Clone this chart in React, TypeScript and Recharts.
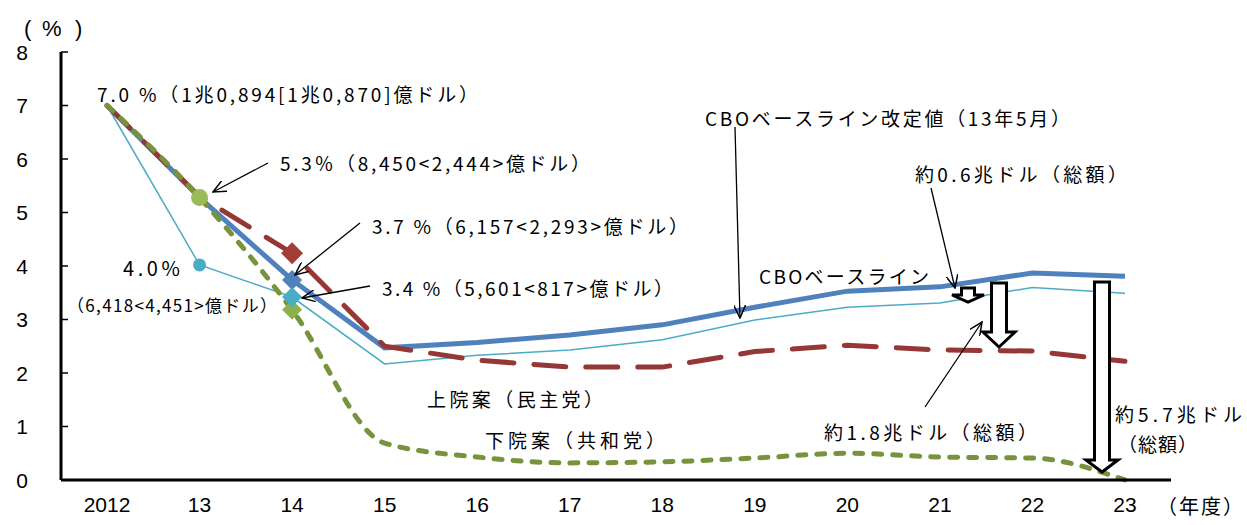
import React from 'react';
import { LineChart, Line, XAxis, YAxis } from 'recharts';

const years = ['2012', '13', '14', '15', '16', '17', '18', '19', '20', '21', '22', '23'];
const cboBaseline = [7.0, 5.28, 3.74, 2.47, 2.57, 2.71, 2.9, 3.23, 3.53, 3.61, 3.87, 3.81];
const cboRevised = [7.0, 4.02, 3.42, 2.17, 2.33, 2.43, 2.62, 2.99, 3.23, 3.31, 3.6, 3.49];
const senatePlan = [7.0, 5.3, 4.24, 2.5, 2.24, 2.11, 2.11, 2.4, 2.52, 2.43, 2.41, 2.22];
const housePlan = [7.0, 5.28, 3.18, 0.69, 0.43, 0.32, 0.34, 0.41, 0.5, 0.43, 0.41, 0.0];
const yTicks = [0, 1, 2, 3, 4, 5, 6, 7, 8];

const data = years.map((year, i) => ({
  year,
  base: cboBaseline[i],
  revised: cboRevised[i],
  senate: senatePlan[i],
  house: housePlan[i],
}));

const W = 1247;
const H = 525;
const JP = '"Noto Sans CJK JP", "Noto Sans", sans-serif';
const TICK_FONT = '"Liberation Sans", Arial, sans-serif';

const BLUE = '#4F81BD';
const CYAN = '#4BACC6';
const RED = '#953735';
const GREEN = '#77933C';

type Mark = { kind: 'circle' | 'diamond'; r: number; fill: string };

// dot renderer that only draws at given indices
const makeDot = (marks: Record<number, Mark>) => (props: any) => {
  const { cx, cy, index } = props;
  const m = marks[index];
  if (!m || cx == null || cy == null) return <g key={`d-${index}`} />;
  if (m.kind === 'circle') {
    return <circle key={`d-${index}`} cx={cx} cy={cy} r={m.r} fill={m.fill} />;
  }
  const r = m.r;
  return (
    <polygon
      key={`d-${index}`}
      points={`${cx},${cy - r} ${cx + r},${cy} ${cx},${cy + r} ${cx - r},${cy}`}
      fill={m.fill}
    />
  );
};

const YTick = (props: any) => {
  const { x, y, payload } = props;
  return (
    <g>
      <text x={x - 33} y={y} textAnchor="end" dominantBaseline="central" fontSize={21} fontFamily={TICK_FONT} fill="#000">
        {payload.value}
      </text>
      <line x1={x} x2={x + 7} y1={y} y2={y} stroke="#000" strokeWidth={1.5} />
    </g>
  );
};

const notes = [
  { text: '7.0 %（1兆0,894[1兆0,870]億ドル）', x: 97, y: 93, w: 381, size: 19 },
  { text: '5.3％（8,450<2,444>億ドル）', x: 280, y: 162, w: 310, size: 19 },
  { text: '3.7 %（6,157<2,293>億ドル）', x: 372, y: 225, w: 316, size: 19 },
  { text: '3.4 %（5,601<817>億ドル）', x: 382, y: 287, w: 291, size: 19 },
  { text: '4.0%', x: 123, y: 267, w: 57, size: 20 },
  { text: '（6,418<4,451>億ドル）', x: 67, y: 304, w: 210, size: 17 },
  { text: 'CBOベースライン改定値（13年5月）', x: 705, y: 117, w: 365, size: 19 },
  { text: 'CBOベースライン', x: 759, y: 275, w: 170, size: 19 },
  { text: '約0.6兆ドル（総額）', x: 915, y: 173, w: 212, size: 19 },
  { text: '約1.8兆ドル（総額）', x: 824, y: 431, w: 213, size: 19 },
  { text: '約5.7兆ドル', x: 1115, y: 413, w: 127, size: 19 },
  { text: '（総額）', x: 1118, y: 443, w: 79, size: 19 },
  { text: '上院案（民主党）', x: 427, y: 398, w: 176, size: 19 },
  { text: '下院案（共和党）', x: 485, y: 439, w: 180, size: 19 },
  { text: '（年度）', x: 1157, y: 505, w: 86, size: 20 },
];

const pointers = [
  [268, 163, 213, 192],
  [360, 223, 295, 275],
  [370, 286, 302, 298],
  [735, 127, 740, 318],
  [931, 188, 955, 288],
  [925, 407, 982, 322],
];

// block arrows: centre x, top, head start, tip, half shaft, half head
const blocks = [
  [968, 288, 295, 302, 6.5, 16],
  [999, 283, 332, 347, 7.5, 16],
  [1102, 282, 460, 472, 7.5, 16],
];

const blockPoints = ([cx, top, hs, tip, sh, hh]: number[]) =>
  [
    [cx - sh, top],
    [cx + sh, top],
    [cx + sh, hs],
    [cx + hh, hs],
    [cx, tip],
    [cx - hh, hs],
    [cx - sh, hs],
  ]
    .map((p) => p.join(','))
    .join(' ');

const App = () => {
  return (
    <div style={{ position: 'absolute', left: 0, top: 0, width: W, height: H, background: '#fff' }}>
      <LineChart width={W} height={H} data={data} margin={{ top: 52, right: 76, bottom: 15, left: 21 }}>
        <XAxis
          dataKey="year"
          padding={{ left: 46, right: 46 }}
          axisLine={{ stroke: '#000', strokeWidth: 3 }}
          tickLine={false}
          tickSize={0}
          tickMargin={17}
          height={30}
          interval={0}
          tick={{ fontSize: 21, fontFamily: TICK_FONT, fill: '#000' }}
        />
        <YAxis
          domain={[0, 8]}
          ticks={yTicks}
          width={40}
          axisLine={{ stroke: '#000', strokeWidth: 3 }}
          tickLine={false}
          tickSize={0}
          tickMargin={0}
          tick={<YTick />}
        />
        <Line
          dataKey="revised"
          type="linear"
          stroke={CYAN}
          strokeWidth={1.5}
          dot={makeDot({ 1: { kind: 'circle', r: 6.5, fill: CYAN } })}
          activeDot={false}
          isAnimationActive={false}
        />
        <Line
          dataKey="base"
          type="linear"
          stroke={BLUE}
          strokeWidth={5}
          dot={makeDot({ 2: { kind: 'diamond', r: 10, fill: BLUE } })}
          activeDot={false}
          isAnimationActive={false}
        />
        <Line
          dataKey="senate"
          type="linear"
          stroke={RED}
          strokeWidth={5}
          strokeDasharray="32 20"
          strokeLinecap="round"
          dot={makeDot({ 2: { kind: 'diamond', r: 11, fill: '#A33B37' } })}
          activeDot={false}
          isAnimationActive={false}
        />
        <Line
          dataKey="house"
          type="monotone"
          stroke={GREEN}
          strokeWidth={5}
          strokeDasharray="8 11"
          strokeLinecap="round"
          dot={makeDot({
            1: { kind: 'circle', r: 8.5, fill: '#9BBB59' },
            2: { kind: 'diamond', r: 10, fill: '#8DB04E' },
          })}
          activeDot={false}
          isAnimationActive={false}
        />
        {/* cyan marker on top of the green one at 14 */}
        <Line
          dataKey="revised"
          stroke="none"
          strokeWidth={0}
          dot={makeDot({ 2: { kind: 'diamond', r: 10, fill: CYAN } })}
          activeDot={false}
          legendType="none"
          isAnimationActive={false}
        />
      </LineChart>

      <svg width={W} height={H} style={{ position: 'absolute', left: 0, top: 0, pointerEvents: 'none' }}>
        <defs>
          <marker id="openHead" viewBox="0 0 14 12" refX={13} refY={6} markerWidth={14} markerHeight={12} markerUnits="userSpaceOnUse" orient="auto">
            <path d="M0,0 L13,6 L0,12" fill="none" stroke="#000" strokeWidth={1.5} />
          </marker>
        </defs>
        {/* unit label（%） */}
        <text y={28} dominantBaseline="central" fontSize={22} fontFamily={TICK_FONT} fill="#000">
          <tspan x={24}>(</tspan>
          <tspan x={42}>%</tspan>
          <tspan x={75}>)</tspan>
        </text>
        {pointers.map(([x1, y1, x2, y2], i) => (
          <line key={`p-${i}`} x1={x1} y1={y1} x2={x2} y2={y2} stroke="#000" strokeWidth={1.3} markerEnd="url(#openHead)" />
        ))}
        {blocks.map((b, i) => (
          <polygon key={`b-${i}`} points={blockPoints(b)} fill="#fff" stroke="#000" strokeWidth={3} strokeLinejoin="miter" />
        ))}
        {notes.map((n, i) => (
          <text
            key={`n-${i}`}
            x={n.x}
            y={n.y}
            dominantBaseline="central"
            fontSize={n.size}
            fontFamily={JP}
            fill="#000"
            textLength={n.w}
            lengthAdjust="spacing"
          >
            {n.text}
          </text>
        ))}
      </svg>
    </div>
  );
};

export default App;
